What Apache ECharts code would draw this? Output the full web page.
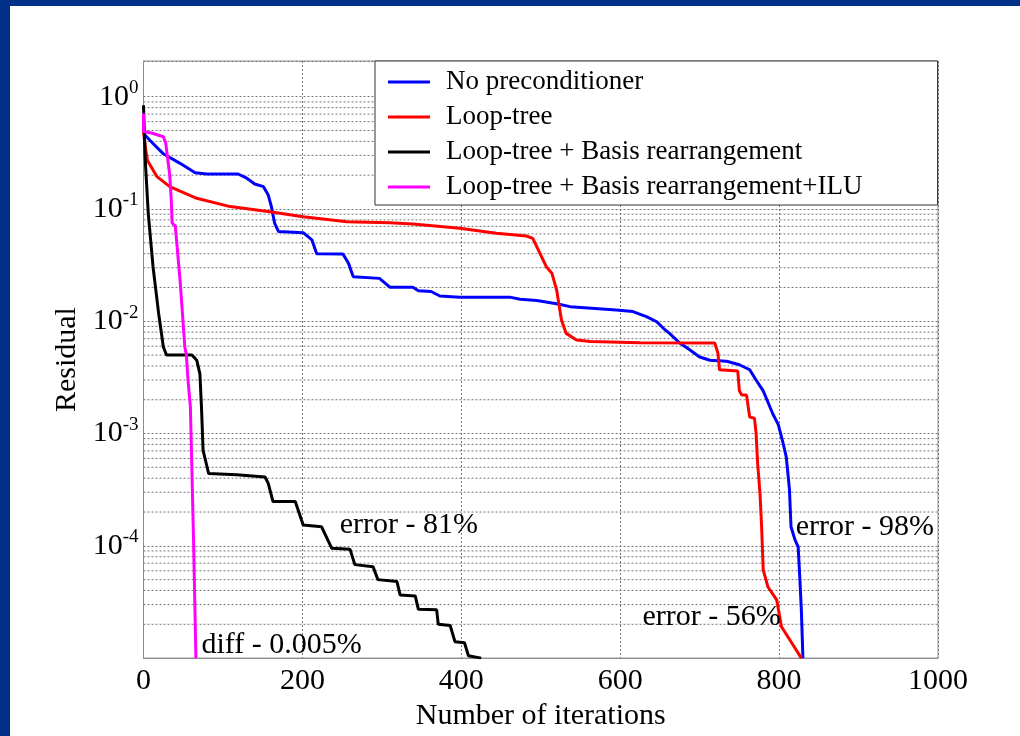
<!DOCTYPE html>
<html>
<head>
<meta charset="utf-8">
<title>Residual vs. iterations</title>
<script src="https://cdn.jsdelivr.net/npm/echarts@6/dist/echarts.min.js"></script>
<style>
  html, body { margin: 0; padding: 0; background: #fff; }
  #chart { position: absolute; left: 0; top: 0; width: 1020px; height: 736px; }
  .frame { position: absolute; background: #003087; }
</style>
</head>
<body>
<div id="chart"></div>
<div class="frame" style="left:0;top:0;width:1020px;height:6px"></div>
<div class="frame" style="left:0;top:0;width:10px;height:736px"></div>
<script>
// ---- data -------------------------------------------------------------
const seriesNames = [
  'No preconditioner',
  'Loop-tree',
  'Loop-tree + Basis rearrangement',
  'Loop-tree + Basis rearrangement+ILU'
];

const noPrecIter = [0, 8, 25, 46, 65, 80, 119, 130, 140, 151, 157, 161, 165, 170, 201, 212, 218, 251, 258, 264,
  297, 310, 339, 346, 362, 373, 398, 461, 474, 495, 520, 537, 595, 616, 633, 646, 654, 662, 675, 687,
  700, 713, 734, 750, 763, 771, 780, 786, 792, 799, 805, 809, 813, 815, 820, 824, 826, 828, 830];
const noPrecRes = [0.47, 0.41, 0.31, 0.255, 0.21, 0.205, 0.205, 0.188, 0.167, 0.158, 0.133, 0.105, 0.075, 0.063,
  0.0615, 0.053, 0.040, 0.0398, 0.0328, 0.0249, 0.0241, 0.0201, 0.0201, 0.0187, 0.0184, 0.0168, 0.0164, 0.0164,
  0.0157, 0.0153, 0.0143, 0.0135, 0.0126, 0.0122, 0.011, 0.0099, 0.0087, 0.0078, 0.0064, 0.0056, 0.0048, 0.0045,
  0.0044, 0.0041, 0.0037, 0.0030, 0.0024, 0.0019, 0.0015, 0.0012, 0.00082, 0.00062, 0.00032, 0.000148, 0.000113,
  0.000098, 0.000053, 0.000027, 0.00001];

const loopTreeIter = [0, 3, 5, 17, 33, 67, 109, 159, 201, 256, 310, 339, 398, 444, 482, 490, 499, 507, 514, 520,
  526, 532, 545, 562, 625, 719, 723, 725, 748, 750, 753, 759, 763, 769, 771, 773, 776, 778, 780, 786, 797, 803,
  815, 828];
const loopTreeRes = [0.49, 0.33, 0.27, 0.194, 0.158, 0.1245, 0.105, 0.0946, 0.0853, 0.077, 0.0755, 0.0735, 0.0673,
  0.0608, 0.0575, 0.0548, 0.0403, 0.0306, 0.0268, 0.019, 0.0103, 0.0078, 0.0068, 0.0066, 0.00645, 0.0064, 0.0052,
  0.0037, 0.0036, 0.0024, 0.0022, 0.0022, 0.0014, 0.00137, 0.00101, 0.00054, 0.00029, 0.000148, 0.000061,
  0.000043, 0.000033, 0.000019, 0.000014, 0.00001];

const basisIter = [0, 2, 6, 12, 19, 25, 29, 61, 67, 71, 73, 75, 82, 117, 153, 157, 163, 191, 201, 224, 237, 260,
  266, 289, 295, 319, 323, 342, 346, 369, 371, 386, 392, 404, 409, 425];
const basisRes = [0.84, 0.29, 0.091, 0.0306, 0.0118, 0.0059, 0.005, 0.005, 0.0045, 0.0034, 0.0017, 0.00071,
  0.00044, 0.00043, 0.00041, 0.00036, 0.000248, 0.000248, 0.000153, 0.000148, 0.000095, 0.000093, 0.000068,
  0.000065, 0.00005, 0.000048, 0.0000365, 0.0000358, 0.0000272, 0.0000269, 0.00002, 0.0000195, 0.000014,
  0.0000137, 0.0000105, 0.00001];

const iluIter = [0, 0, 10, 25, 28, 33, 35, 36, 40, 46, 52, 54, 56, 59, 63, 66];
const iluRes = [0.71, 0.49, 0.475, 0.44, 0.387, 0.20, 0.12, 0.075, 0.0706, 0.0234, 0.0059, 0.005, 0.003,
  0.00174, 0.000112, 0.00001];

const xTickStep = 200;

// text notes placed in data space: [text, iteration, residual]
const notes = [
  ['error - 81%', 247, 1.53e-4],
  ['diff - 0.005%', 73, 1.31e-5],
  ['error - 98%', 821, 1.48e-4],
  ['error - 56%', 628, 2.34e-5]
];

// ---- helpers ----------------------------------------------------------
const FONT = "'Liberation Serif', 'Times New Roman', serif";
const X_MIN = 0, X_MAX = 1000;
const pairs = (xs, ys) => xs.map((x, i) => [x, ys[i]]);

// minor log grid: 2..9 x 10^k inside each decade
const minorGrid = [];
for (let k = -5; k < 0; k++) {
  for (let m = 2; m <= 9; m++) minorGrid.push(m * Math.pow(10, k));
}

const gridLine = { type: [2, 2], color: '#767676', width: 1 };

function curve(name, xs, ys, color) {
  return {
    name: name,
    type: 'line',
    data: pairs(xs, ys),
    symbol: 'none',
    showSymbol: false,
    lineStyle: { color: color, width: 3 },
    itemStyle: { color: color },
    z: 3,
    animation: false
  };
}

// each minor grid level drawn as a dotted horizontal line across the plot
const minorGridSeries = minorGrid.map(v => ({
  type: 'line',
  data: [[X_MIN, v], [X_MAX, v]],
  symbol: 'none',
  silent: true,
  lineStyle: gridLine,
  z: 1,
  animation: false,
  emphasis: { disabled: true }
}));

const noteSeries = {
  type: 'line',
  data: [],
  silent: true,
  z: 6,
  markPoint: {
    silent: true,
    symbol: 'circle',
    symbolSize: 0,
    z: 6,
    label: {
      show: true, position: 'right', distance: 0,
      fontFamily: FONT, fontSize: 30, color: '#000',
      formatter: p => p.name
    },
    data: notes.map(n => ({ name: n[0], coord: [n[1], n[2]] }))
  }
};

const chart = echarts.init(document.getElementById('chart'), null, { renderer: 'canvas' });

chart.setOption({
  animation: false,
  backgroundColor: '#ffffff',
  grid: {
    left: 143.5, top: 61, right: 82, bottom: 76,
    show: true, borderColor: '#8c8c8c', borderWidth: 1, backgroundColor: 'transparent'
  },
  legend: {
    data: seriesNames,
    orient: 'vertical',
    left: 375, top: 61,
    padding: [6, 75, 3, 13],
    icon: 'rect',
    itemWidth: 42, itemHeight: 3, itemGap: 5,
    backgroundColor: '#ffffff',
    borderColor: '#333', borderWidth: 1,
    selectedMode: false,
    textStyle: { fontFamily: FONT, fontSize: 27, color: '#000', lineHeight: 30, padding: [0, 0, 0, 11] },
    z: 10
  },
  xAxis: {
    type: 'value',
    min: X_MIN, max: X_MAX, interval: xTickStep,
    name: 'Number of iterations',
    nameLocation: 'middle', nameGap: 33,
    nameTextStyle: { fontFamily: FONT, fontSize: 30, color: '#000' },
    axisLine: { show: true, lineStyle: { color: '#8c8c8c' } },
    axisTick: { show: false },
    axisLabel: { fontFamily: FONT, fontSize: 30, color: '#000', margin: 8, formatter: v => String(v) },
    splitLine: { show: true, lineStyle: gridLine }
  },
  yAxis: {
    type: 'log', logBase: 10,
    min: 1e-5, max: 2.08,
    name: 'Residual',
    nameLocation: 'middle', nameGap: 58,
    nameTextStyle: { fontFamily: FONT, fontSize: 30, color: '#000' },
    axisLine: { show: true, lineStyle: { color: '#8c8c8c' } },
    axisTick: { show: false },
    axisLabel: {
      margin: 5,
      showMinLabel: false,
      formatter: function (v) {
        const lg = Math.log10(v);
        const k = Math.round(lg);
        if (Math.abs(lg - k) > 1e-6) return '';
        return '{b|10}{s|' + k + '}';
      },
      rich: {
        b: { fontFamily: FONT, fontSize: 30, color: '#000', lineHeight: 36 },
        s: { fontFamily: FONT, fontSize: 19, color: '#000', lineHeight: 20, verticalAlign: 'top' }
      }
    },
    splitLine: { show: true, lineStyle: gridLine }
  },
  series: minorGridSeries.concat([
    curve(seriesNames[0], noPrecIter, noPrecRes, '#0000ff'),
    curve(seriesNames[1], loopTreeIter, loopTreeRes, '#ff0000'),
    curve(seriesNames[2], basisIter, basisRes, '#000000'),
    curve(seriesNames[3], iluIter, iluRes, '#ff00ff'),
    noteSeries
  ])
});
</script>
</body>
</html>
